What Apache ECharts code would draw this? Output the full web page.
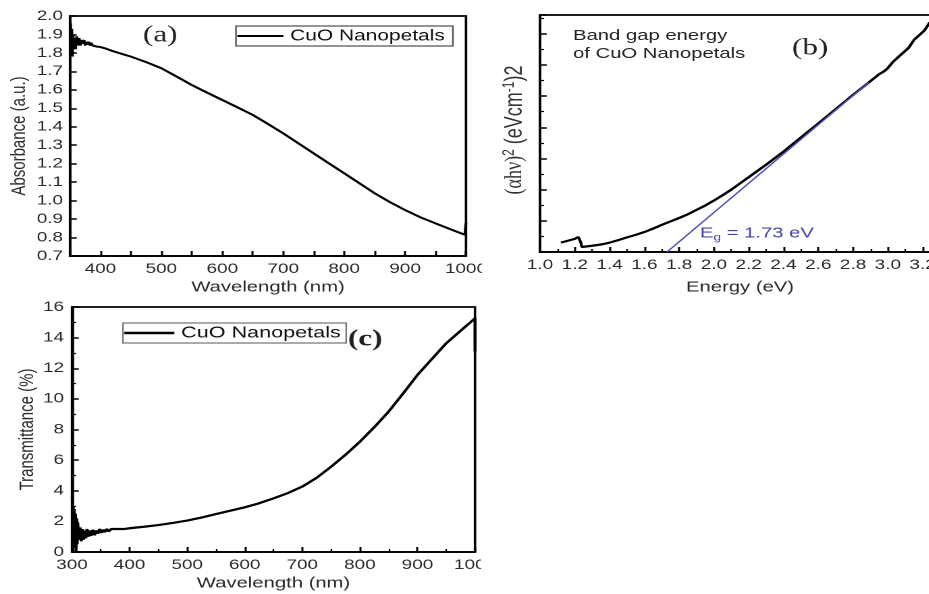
<!DOCTYPE html>
<html>
<head>
<meta charset="utf-8">
<script src="https://cdn.jsdelivr.net/npm/echarts@6/dist/echarts.min.js"></script>
<style>
html,body{margin:0;padding:0;background:#fff;overflow:hidden;}
#wrap{width:929px;height:594px;overflow:hidden;position:relative;background:#fff;}
#c{height:594px;transform-origin:0 0;position:absolute;left:0;top:0;}
</style>
</head>
<body>
<div id="wrap"><div id="c"></div></div>
<script>
// ---- Panel (a): Absorbance ----
const absWavelength = [351,352,353,354,355,356,357,359,361,363,365,367,369,371,373,375,377,379,381,383,385,387,390,393,396,400,410,420,430,440,450,475,500,525,550,575,600,625,650,675,700,725,750,775,800,825,850,875,900,925,950,975,998,1000,1000];
const absValues     = [1.96,1.80,1.93,1.78,1.90,1.83,1.88,1.82,1.89,1.84,1.88,1.84,1.87,1.85,1.87,1.84,1.86,1.845,1.86,1.84,1.855,1.84,1.85,1.835,1.84,1.832,1.822,1.81,1.80,1.79,1.78,1.75,1.717,1.672,1.626,1.585,1.545,1.505,1.464,1.415,1.364,1.31,1.256,1.202,1.148,1.094,1.04,0.992,0.949,0.91,0.877,0.844,0.815,0.81,0.88];
const absXTicks = {min:350, max:1000, step:50};
const absYTicks = {min:0.7, max:2.0, step:0.1};

// ---- Panel (b): Tauc plot ----
const tEnergy = [1.12,1.16,1.20,1.22,1.23,1.235,1.24,1.27,1.3,1.35,1.4,1.45,1.5,1.55,1.6,1.65,1.7,1.75,1.8,1.85,1.9,1.95,2.0,2.05,2.1,2.15,2.2,2.3,2.4,2.5,2.6,2.7,2.8,2.9,2.95,2.98,3.0,3.03,3.06,3.09,3.12,3.15,3.18,3.21,3.24,3.27,3.3];
const tValues = [0.30,0.36,0.42,0.48,0.47,0.30,0.16,0.18,0.20,0.24,0.30,0.38,0.47,0.55,0.64,0.75,0.87,0.98,1.09,1.21,1.35,1.49,1.65,1.82,2.0,2.2,2.4,2.8,3.22,3.67,4.12,4.58,5.04,5.48,5.7,5.8,5.9,6.1,6.25,6.4,6.55,6.8,6.95,7.1,7.35,7.5,7.6];
const fitEnergy = [1.73, 2.89];
const fitValues = [0, 5.44];
const tXTicks = {min:1.0, max:3.3, step:0.2};
const tYTicks = {min:0, max:7.6, step:1};

// ---- Panel (c): Transmittance ----
const trWavelength = [300.5,301,302,303,304,305,306,307,308,309,310,312,314,316,318,320,322,324,326,328,330,333,336,339,342,345,348,351,354,357,360,364,368,372,376,380,385,390,400,425,450,475,500,525,550,575,600,625,650,675,700,725,750,775,800,825,850,875,900,925,950,975,1000,1000];
const trValues     = [3.7,1.0,3.0,0.3,2.8,0.5,2.5,0.0,2.2,0.5,1.9,0.8,1.6,0.7,1.5,0.8,1.4,0.9,1.5,1.0,1.4,1.05,1.45,1.1,1.4,1.2,1.5,1.25,1.45,1.3,1.5,1.35,1.5,1.4,1.5,1.45,1.5,1.5,1.55,1.65,1.76,1.9,2.05,2.25,2.48,2.7,2.92,3.18,3.5,3.85,4.27,4.85,5.57,6.35,7.2,8.15,9.17,10.35,11.56,12.6,13.63,14.45,15.26,13.1];
const trXTicks = {min:300, max:1000, step:100};
const trYTicks = {min:0, max:16, step:2};

const legendName = 'CuO Nanopetals';
const zip = (a,b)=>a.map((v,i)=>[v,b[i]]);

// horizontal stretch of the original figure
const S = 1.35;
const X = px => px / S;
const el = document.getElementById('c');
el.style.width = (929 / S) + 'px';
el.style.transform = 'scaleX(' + S + ')';

const FONT = 'Liberation Sans';
const tickStyle = {show:true, inside:true, length:5, lineStyle:{color:'#000', width:1.5}};
const minorStyle = {show:true, splitNumber:2, length:3, lineStyle:{color:'#000', width:1.2}};
const axLine = {show:true, onZero:false, lineStyle:{color:'#000', width:1.8}};
const lbl = {color:'#2a2a2a', fontSize:14, fontFamily:FONT};

function ax(idx, t, fmt, name, gap, margin, extra){
  return Object.assign({type:'value', gridIndex:idx, min:t.min, max:t.max, interval:t.step,
    axisLine:axLine, axisTick:tickStyle, splitLine:{show:false},
    axisLabel:Object.assign({margin:margin, formatter:fmt}, lbl),
    name:name, nameLocation:'middle', nameGap:gap,
    nameTextStyle:{color:'#2a2a2a', fontSize:15, fontFamily:FONT}}, extra||{});
}

const chart = echarts.init(el, null, {renderer:'canvas', devicePixelRatio:2});
const gridStyle = {show:true, borderColor:'#000', borderWidth:1.8, backgroundColor:'transparent', containLabel:false, outerBoundsMode:'none'};

const option = {
  animation:false,
  backgroundColor:'#fff',
  grid:[
    Object.assign({left:X(70), top:16, width:X(396), height:240}, gridStyle),
    Object.assign({left:X(540), top:15, width:X(400), height:237}, gridStyle),
    Object.assign({left:X(72), top:307, width:X(403), height:245}, gridStyle)
  ],
  xAxis:[
    ax(0, absXTicks, v => (Math.round(v)%100===0 ? String(Math.round(v)) : ''), 'Wavelength (nm)', 24, 6),
    ax(1, tXTicks, v => {const k=Math.round(v*10); return (k%2===0 && k<=32) ? (k/10).toFixed(1) : '';}, 'Energy (eV)', 28, 6,
        {minorTick:minorStyle}),
    ax(2, trXTicks, v => String(Math.round(v)), 'Wavelength (nm)', 24, 6, {minorTick:minorStyle})
  ],
  yAxis:[
    ax(0, absYTicks, v => v.toFixed(1), 'Absorbance (a.u.)', 30, X(7)),
    ax(1, tYTicks, () => '', '', 30, 5, {minorTick:minorStyle}),
    ax(2, trYTicks, v => String(Math.round(v)), 'Transmittance (%)', 25, X(8), {minorTick:minorStyle})
  ],
  legend:[
    {data:[legendName], left:X(236), top:26, orient:'horizontal', icon:'rect', itemWidth:X(46), itemHeight:2,
     itemGap:3, padding:[2,6,2,1], borderColor:'#555', borderWidth:1.2,
     textStyle:{color:'#111', fontSize:15.5, fontFamily:FONT}, selectedMode:false},
    {data:[legendName], left:X(123), top:323, orient:'horizontal', icon:'rect', itemWidth:X(50), itemHeight:2.5,
     itemGap:3, padding:[2,4,2,1], borderColor:'#777', borderWidth:1.2,
     textStyle:{color:'#111', fontSize:16, fontFamily:FONT}, selectedMode:false}
  ],
  series:[
    {name:legendName, type:'line', xAxisIndex:0, yAxisIndex:0, data:zip(absWavelength, absValues),
     symbol:'none', smooth:false, lineStyle:{color:'#000', width:2}, itemStyle:{color:'#000'}},
    {name:'tauc', type:'line', xAxisIndex:1, yAxisIndex:1, data:zip(tEnergy, tValues),
     symbol:'none', smooth:false, lineStyle:{color:'#000', width:2.2}, itemStyle:{color:'#000'}},
    {name:'fit', type:'line', xAxisIndex:1, yAxisIndex:1, data:zip(fitEnergy, fitValues),
     symbol:'none', lineStyle:{color:'#4d4db8', width:1.3}, itemStyle:{color:'#4d4db8'}},
    {name:legendName, type:'line', xAxisIndex:2, yAxisIndex:2, data:zip(trWavelength, trValues),
     symbol:'none', smooth:false, lineStyle:{color:'#000', width:2.2}, itemStyle:{color:'#000'}}
  ],
  graphic:[
    {type:'text', left:X(143), top:24, style:{text:'(a)', font:'23px "Liberation Serif"', fill:'#222'}},
    {type:'text', left:X(792), top:37, style:{text:'(b)', font:'23px "Liberation Serif"', fill:'#222'}},
    {type:'text', left:X(348), top:328, style:{text:'(c)', font:'bold 23px "Liberation Serif"', fill:'#222'}},
    {type:'text', left:X(573), top:27, style:{text:'Band gap energy\nof CuO Nanopetals', font:'15px "Liberation Sans"', lineHeight:18, fill:'#222'}},
    {type:'text', left:X(700), top:226, style:{
      rich:{n:{fontSize:15, fontFamily:FONT, fill:'#4646aa', color:'#4646aa'}, s:{fontSize:10, fontFamily:FONT, fill:'#4646aa', color:'#4646aa', verticalAlign:'bottom', padding:[8,0,0,0]}},
      text:'{n|E}{s|g}{n| = 1.73 eV}'}},
    {type:'text', x:X(515), y:130, rotation:Math.PI/2, style:{
      align:'center', verticalAlign:'middle',
      rich:{a:{fontSize:18, fontFamily:'Liberation Serif', fill:'#333'}, sup:{fontSize:12, fontFamily:FONT, fill:'#333', padding:[0,0,9,0]}, b:{fontSize:18, fontFamily:FONT, fill:'#333'}},
      text:'{a|(αhν)}{sup|2}{b| (eVcm}{sup|-1}{b|)2}'}},
    // the original figure is cropped just right of the left panels
    {type:'rect', z:100, shape:{x:X(482), y:258, width:X(20), height:22}, style:{fill:'#fff'}},
    {type:'rect', z:100, shape:{x:X(481), y:555, width:X(20), height:22}, style:{fill:'#fff'}}
  ]
};
chart.setOption(option);
</script>
</body>
</html>
